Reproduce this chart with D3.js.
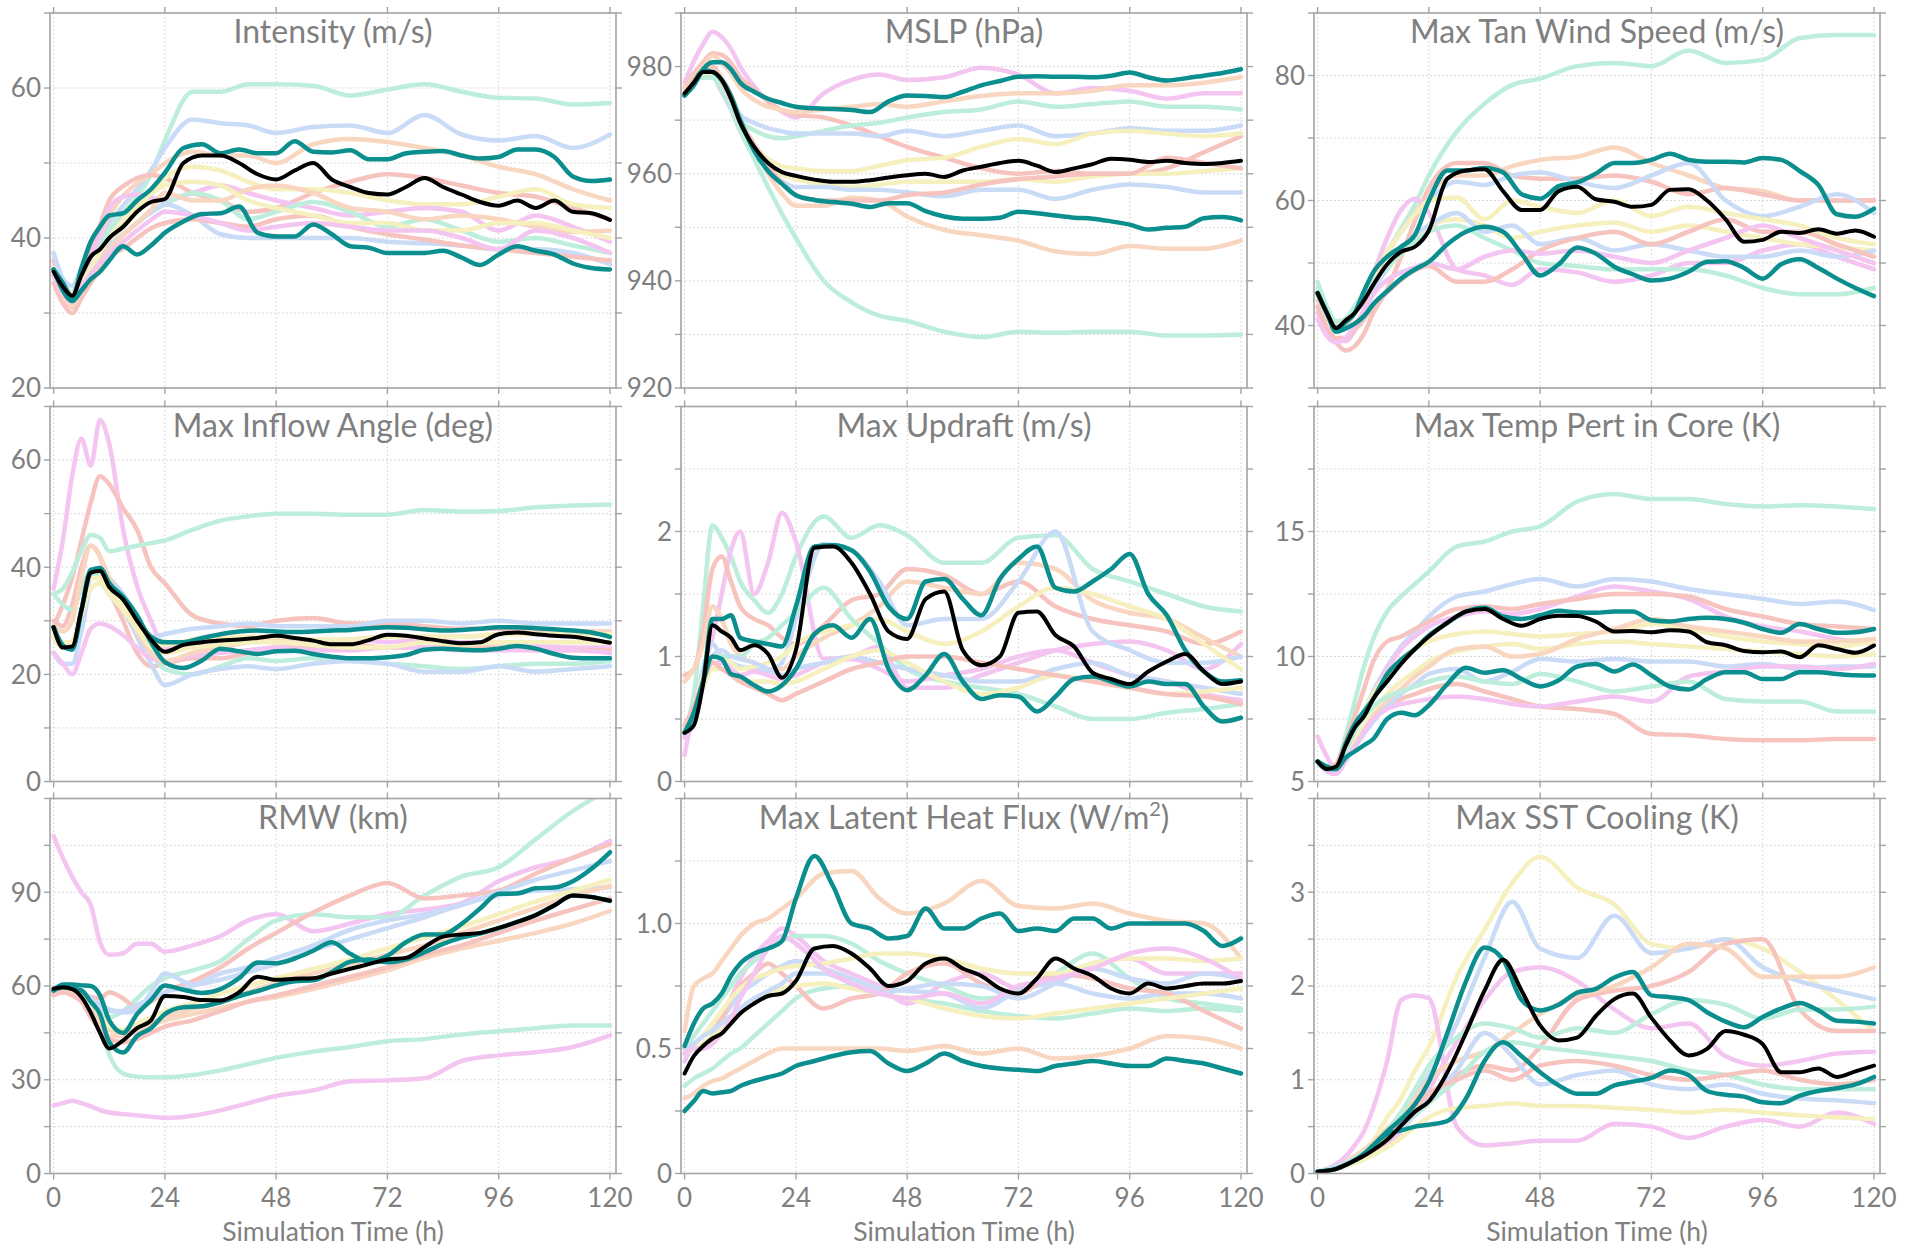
<!DOCTYPE html>
<html><head><meta charset="utf-8">
<script src="https://cdn.jsdelivr.net/npm/d3@7"></script>
<style>
html,body{margin:0;padding:0;background:#fff;}
svg{display:block;font-family:Lato,"Open Sans",sans-serif;}
</style></head><body>
<svg id="chart" width="1919" height="1246"></svg>
<script>
// ---- time axes ----
const hours = [0,2,4,6,8,10,12,15,18,21,24,28,32,36,40,44,48,52,56,60,64,68,72,76,80,84,88,92,96,100,104,108,112,116,120];
const memberHours = [0,2,4,6,8,10,12,15,18,21,24,30,36,42,48,56,64,72,80,88,96,104,112,120];
const xTicks = [0,24,48,72,96,120];
const xTickLabels = ["0","24","48","72","96","120"];
const xAxisTitle = "Simulation Time (h)";

// ---- panel definitions ----
const panelTitles = ["Intensity (m/s)","MSLP (hPa)","Max Tan Wind Speed (m/s)","Max Inflow Angle (deg)","Max Updraft (m/s)","Max Temp Pert in Core (K)","RMW (km)","Max Latent Heat Flux (W/m²)","Max SST Cooling (K)"];
const yDomains = [[20,70],[920,990],[30,90],[0,70],[0,3],[5,20],[0,120],[0,1.5],[0,4]];
const yGridSteps = [10,10,10,10,0.5,2.5,15,0.25,0.5];
const yTickLabels = [[20,40,60],[920,940,960,980],[40,60,80],[0,20,40,60],[0,1,2],[5,10,15],[0,30,60,90],[0,0.5,1.0],[0,1,2,3]];

const pastelColors = {mint:"#bdeedc",blue:"#c9dbf6",pink:"#f3c5f0",salmon:"#f6c3bf",peach:"#f9d6c0",yellow:"#f6f0bf"};
const tealColor = "#0b8e8e";
const meanColor = "#000000";

// ---- 1 Intensity ----
const intensityMean = [35.5,33.5,32.3,35,37.5,38.5,40,41.5,43.5,44.8,45.2,50,51,51,50,48.5,47.8,49,50,47.8,46.8,46,45.8,46.8,48,46.8,45.8,44.8,44.3,45,44,45,43.5,43.3,42.4];
const intensityTealA = [35.8,34,32,36,39.5,41.5,43,43.3,45,46.5,48.7,52,52.5,51.3,51.8,51.3,51.3,52.9,51.5,51.4,51.7,50.5,50.5,51.3,51.5,51.6,51,50.6,50.8,51.8,51.8,50.8,48.2,47.6,47.8];
const intensityTealB = [35.8,33,31.6,33,34.5,35.5,37,38.9,37.8,39,40.7,42.2,43.2,43.3,44.2,40.7,40.2,40.2,41.8,40.5,38.9,38.7,38,38,38,38.3,37.4,36.4,37.8,38.9,38.3,37.8,36.6,36,35.8];
const intensityMemberColors = ["mint","blue","peach","salmon","yellow","pink","mint","blue","salmon","peach","yellow","pink"];
const intensityMembers = [
 [36,33.5,32.7,35.5,37.5,39.3,41,43.3,45.5,48.5,53,59.5,59.5,60.5,60.5,60.3,59,59.8,60.5,59.5,58.7,58.6,57.8,58],
 [37,34.6,33.6,36,38,40,42,44.3,46.5,49,52,55.8,55.3,55,54,54.8,55,54,56.4,53.8,53,53.6,52,53.8],
 [35,32.6,31.8,35,37.7,40.3,43,45.6,47.3,48.5,50,51.5,51,51,50,52.5,53.2,52.8,52,51,49.5,48.5,46.5,45],
 [37,32.8,30.8,34,38,41.7,45,46.9,48,48.4,48,46,45,43.5,44,46,47.5,48.5,48,47,46,45.5,44,42.5],
 [36,33,31.7,34.5,36.2,37.8,39.5,41.4,43.5,45.8,48,49.5,49,47.5,46.5,46.5,46,45,44.5,44.5,45.5,46.5,44.5,44],
 [36,33,31.6,34,37.4,40.7,44,45.5,45.8,45.4,45,46,47,46,45,44,43,43.5,44,43.5,41,43,41.5,39.5],
 [35,32.6,31.6,34,35.7,37.2,38.5,40.4,42,43.4,44.5,46,45,42.5,43.5,44.8,43.5,41.5,42.5,41,39.5,40,39,38],
 [38,34.4,32.4,34,36,37.7,39,40.5,42,43.4,44.5,43,40.5,40,40,40,40,39.5,39.3,39,38.5,38.5,38,36.5],
 [34,31.3,30,32,34,35.8,37.5,38.6,40,41.3,42,42.5,42,41.5,42.5,43,41.5,40.5,39.8,39,38.5,38,37.5,37],
 [35,32.3,31,33,35,36.8,38.5,40.4,42,43.8,46,45,45,46.5,47,46,44,43.5,42.5,43,42.5,41.5,40.8,41],
 [36,33.6,32.4,34,36,38,40,42.3,44.3,45.9,47,47.5,47,45,44,43,42,42,41,41,42,42,41,40],
 [35,32.6,31.5,33.5,35.2,36.7,38,39.5,41,42.4,43.5,43,42,41,41.5,42,41.5,41,41,40,38.5,41,40,38]
];

// ---- 2 MSLP ----
const mslpMean = [975,977,979,979,977.5,974,969.5,965,962,960.3,959.6,958.9,958.5,958.5,958.8,959.3,959.7,960,959.4,960.6,961.3,962,962.4,961.5,960.3,961,961.8,962.8,962.6,962.2,962.4,962,961.8,962,962.4];
const mslpTealA = [974.6,976.5,979.5,980.8,980.8,979.5,977,975.3,974,973.2,972.5,972.2,972.1,971.9,971.5,973.5,974.6,974.5,974.3,975.3,976.5,977.3,978.1,978.2,978.1,978.1,978,978.3,978.9,978,977.4,977.8,978.3,978.8,979.5];
const mslpTealB = [974.6,977,979.3,979,977.5,974.5,970,964.3,960.5,958.1,956,955.1,954.7,954.4,953.8,954.5,954.5,953,952,951.6,951.6,951.8,952.9,952.6,952.2,951.8,951.6,951.1,950.5,949.6,949.9,950.1,951.7,951.9,951.3];
const mslpMemberColors = ["pink","salmon","peach","peach","mint","blue","yellow","yellow","blue","mint","salmon"];
const mslpMembers = [
 [977,981,984.2,986.5,985.5,983.3,980,976.3,973.5,971.6,970.5,975,977.5,978.5,977.5,978,979.8,978.5,975,976,975.5,974,975,975],
 [976,978.7,980.8,982.5,982.2,980.7,978,975.8,973.5,971.8,971,970.5,969,967,965,963,961,960,960.5,960,960,961,964,967],
 [975,977.7,979.3,980,978,974.7,970,964.8,960,956.3,954,954,955.5,955,952,949.5,948.5,947.5,945.5,945,946.5,946,946,947.5],
 [976,978,980,982,980.7,978.7,976,973.8,972.5,971.9,971.5,972,972.5,973,972.5,973.5,974.5,975,975,975.5,976.5,976.5,977,978],
 [975,977,978.2,978.5,976.2,973.3,970,968.1,967,966.6,967,968,969,969.5,970.5,971.5,972,973.5,972.5,973,973.5,972.5,972.5,972],
 [975,977,978,978,976,973.7,971,969.5,968.5,967.9,967.5,967.5,967.5,967,968,967,968,969,967,967.5,968.5,968,968,969],
 [975,977,978.3,979,976.3,973,969,965.3,962.8,961.4,961,960.5,960.5,961.5,962.5,963,965,966.5,965.5,967.5,968,967.5,967,967.5],
 [975,977,978,978,975.3,972,968,964.3,961.5,959.8,959,958,957.5,958,958.5,958.5,958.5,959,958.5,959.5,960,960,960.5,961],
 [975,977,978,978,975.3,972,968,963.9,960.8,958.6,957.5,957.5,957,957,956.5,955.8,957,957,955.3,957,958,957.5,956.5,956.5],
 [975,977,978,978,976,972.7,968,962.8,957.5,952.5,948,940,936,933.5,932.5,930.5,929.5,930.5,930.3,930.5,930.5,929.8,929.8,930],
 [975,977.7,979.3,980,977.3,974,970,965.5,961.5,958.3,956,955,955,955,956,956.5,958,959,959.5,960,960,963,962,961]
];

// ---- 3 Max Tan Wind ----
const tanWindMean = [45.2,42,39.6,40.8,42,44,46.5,49.8,51.8,52.6,55.2,63.5,64.8,65,61.5,58.5,58.5,61.5,62.2,60.2,59.8,59,59.3,61.7,61.8,60,57,53.4,53.7,55,54.8,55.4,54.7,55.2,54.2];
const tanWindTealA = [45.2,42,39.3,40.5,42,45.5,48.5,51,52.6,54.5,60,64.8,64.8,65.2,64.5,61,60.3,62.3,62.9,64.3,66,66,66.5,67.5,66.5,66.2,66.2,66.1,66.8,66.5,64.7,62.5,57.8,57.4,58.7];
const tanWindTealB = [45.2,42,39,39.5,40.3,41.5,43.4,45.5,47.5,49,50.2,53,55,55.8,55,51.5,48,49.8,52.5,51.5,49.4,48.2,47.2,47.5,48.6,50.2,50.3,49.2,47.5,49.8,50.6,49.2,47.5,46,44.7];
const tanWindMemberColors = ["mint","peach","salmon","blue","pink","yellow","yellow","blue","mint","salmon","pink"];
const tanWindMembers = [
 [47,43,40.7,41,43,45.3,48,51.8,55.5,59.3,64,71,75.5,78.5,79.5,81.5,82,81.5,84,82,82.5,86,86.5,86.5],
 [44,41.3,40,40,42,44.3,47,51.5,55,58,61,64,64,65.5,66.5,67,68.5,66,64,62,61.5,60,60,60],
 [43,39.7,37.3,36,36.7,38.7,42,45.8,51,56.8,62,66,66,64,63.5,63.5,64,63,61,62,61,60,60,60],
 [45,41.7,40.3,41,43,45.3,48,51.8,55,57.8,60,63,62.5,64,64.5,63,62,64,66,60,57.5,59,61,58],
 [42,39.3,37.8,37.5,39.2,42.7,48,54,58.5,60.3,58,49,48,46.5,49,48.5,47,48,50,50,52,53,51,49],
 [45,41.7,40.3,41,43,45.3,48,51.8,55,57.8,60,60.5,57,60,59,58,60,57.5,59,58,57,56,54,53],
 [45,41.7,40.3,41,42.3,44,46,49,51.5,53.8,56,57,56,54,55,56,56.5,55,56,55,54,53,52.5,52],
 [45,41.7,40.2,40.5,42.2,44,46,49,52,54.5,56,58,55,56,53,54,52,53,52,51,51,52,51,52],
 [46,42,40.3,41,43,45,47,49.3,51.5,53.5,55,56,54,52,50,49.5,49,49,49,48,46,45,45,46],
 [43,39.7,38,38,39.3,41,43,45.3,47.3,48.8,49.5,47,47,49,52,54,55,53,55,57,55,55,53,51],
 [41,38.3,37.3,38,40,42.3,45,47.3,48.5,49.3,50,49,51,52,51.5,52,51,50,52,54,56,54,52,50]
];

// ---- 4 Max Inflow Angle ----
const inflowMean = [28.8,25,25.2,32,39,39.3,36.3,34,30,26.5,24.2,25.5,26,26.3,26.5,26.8,27.2,26.8,26.3,25.6,25.6,26.4,27.4,27.2,26.7,26.2,25.8,26,27.5,27.8,27.5,27.2,27,26.5,25.9];
const inflowTealA = [28.8,25.4,24.6,32,39.5,39.8,37,34,30.5,27,26,26,26.8,27.5,28,28.2,28,27.9,28,28.2,28.3,28.6,28.8,28.7,28.4,28.2,28.3,28.5,28.8,28.8,28.6,28.4,28.2,27.8,27];
const inflowTealB = [28.8,25.2,24.8,32,39,39.8,37,34.5,31,26,22.3,21.2,22.6,24.8,24.3,23.8,24.3,24.4,23.8,23.3,23,23,23.2,23.6,24.6,24.8,24.6,24.5,24.8,25.3,24.8,23.8,23.1,23,23];
const inflowMemberColors = ["pink","salmon","salmon","mint","mint","blue","blue","pink","peach","yellow","yellow"];
const inflowMembers = [
 [36,45,57,64,59,67.5,63,47,36.5,30,25,25,26,26.5,26,26,26.5,26,26.5,26,26,25.5,25,25],
 [29,33,38,45,52,57,55.5,51,47,40,37,31,29.5,29,30,30.5,29.5,29.5,29,28.5,28.5,28,28,28],
 [30,29,33,40,44,42,36,30,24,21.5,22,23,23,24,25,25,25.5,25,25,25,25,24.5,24.5,24.5],
 [35,36,39,43,46,45.5,43,43.5,44,44.5,45,47,48.7,49.5,50,50,49.8,49.8,50.7,50.4,50.5,51.2,51.5,51.7],
 [35,33,32,36,39,38,35,32,28,24,21,20,21.5,23,22.5,23,22.5,22,21.5,21,21.5,22,22,22.5],
 [24,22,22,28,36,37,35,32,27,22,18,20,21,21.5,21,22,22.5,22,20.5,20.5,21.5,20.5,21,21.5],
 [27,25,26,32,38,40,38,35,31,27,27.5,28.5,29,29.5,29,29,29,30,30,29.5,30,29.5,29.5,29.5],
 [24,22,20,24,28.5,29.5,29,27.3,25,23,22.5,23.5,24,24.5,25,24.5,24.5,25,25,24.5,24.5,24.5,24.5,24],
 [29,28,30,38,44,42,38,33,28,24,22.5,24,25,26,26.5,26,26.5,27,27,27,27.5,28,28,28],
 [27,25,26,32,38,38,36,33,29,26,25.5,26.5,27,27,27,26.5,26.5,27,27,27,27.5,27.5,27.5,27.5],
 [28,26,26,31,36,37,35,32,28.5,25,24,25,25.5,26,26,25.5,25,25,26,25.5,26,26,26,26]
];

// ---- 5 Max Updraft ----
const updraftMean = [0.39,0.45,0.78,1.25,1.2,1.15,1.05,1.09,1.02,0.83,1.05,1.87,1.88,1.75,1.5,1.2,1.14,1.46,1.52,1.05,0.93,1.0,1.35,1.36,1.17,1.08,0.87,0.82,0.78,0.88,0.96,1.02,0.88,0.78,0.8];
const updraftTealA = [0.39,0.55,0.8,1.3,1.3,1.33,1.15,1.12,1.1,1.08,1.4,1.88,1.89,1.85,1.68,1.4,1.3,1.6,1.62,1.46,1.33,1.62,1.78,1.88,1.55,1.52,1.6,1.7,1.82,1.5,1.33,1.05,0.88,0.8,0.81];
const updraftTealB = [0.39,0.55,0.8,1.0,0.98,0.86,0.84,0.77,0.72,0.77,0.9,1.18,1.25,1.15,1.3,0.9,0.73,0.85,1.02,0.8,0.66,0.69,0.68,0.56,0.68,0.82,0.84,0.8,0.76,0.8,0.78,0.78,0.6,0.48,0.51];
const updraftMemberColors = ["mint","pink","salmon","peach","blue","yellow","mint","pink","blue","yellow","salmon"];
const updraftMembers = [
 [0.4,0.7,1.4,2.05,1.95,1.8,1.6,1.45,1.35,1.5,1.8,2.12,1.95,2.05,1.97,1.75,1.75,1.95,1.97,1.7,1.6,1.5,1.4,1.36],
 [0.21,0.6,0.9,1.15,1.5,1.85,2.0,1.5,1.75,2.15,1.92,0.98,1.0,1.08,0.75,0.75,0.85,0.95,1.05,1.1,1.12,1.05,0.9,1.1],
 [0.85,0.9,1.2,1.7,1.8,1.6,1.4,1.3,1.25,1.15,1.1,1.25,1.45,1.5,1.7,1.65,1.5,1.6,1.4,1.3,1.25,1.2,1.1,1.2],
 [0.8,0.9,1.1,1.4,1.3,1.1,1.0,0.95,0.9,0.9,1.0,1.15,1.25,1.4,1.6,1.55,1.5,1.75,1.7,1.45,1.35,1.3,1.15,1.0],
 [0.4,0.6,0.9,1.1,1.0,0.95,0.92,0.9,0.88,0.95,1.3,1.9,1.85,1.6,1.25,1.3,1.3,1.6,2.0,1.2,1.05,0.95,0.95,1.0],
 [0.4,0.6,0.85,1.0,1.0,0.95,0.9,0.92,0.95,1.0,1.1,1.2,1.25,1.3,1.2,1.1,1.2,1.4,1.55,1.5,1.4,1.3,1.1,0.9],
 [0.4,0.6,0.8,1.0,1.0,1.0,1.0,1.1,1.15,1.25,1.35,1.55,1.3,1.1,0.9,0.8,0.75,0.7,0.6,0.5,0.5,0.55,0.58,0.62],
 [0.35,0.55,0.8,0.95,0.95,0.9,0.85,0.88,0.85,0.82,0.85,0.95,0.98,0.9,0.8,0.85,0.9,1.0,1.05,0.95,0.85,0.8,0.7,0.65],
 [0.4,0.55,0.8,1.0,1.05,1.0,0.98,0.95,0.9,0.85,0.9,0.95,1.0,0.95,0.9,0.85,0.8,0.8,0.9,0.95,0.85,0.8,0.75,0.7],
 [0.4,0.55,0.75,0.9,0.9,0.85,0.8,0.8,0.8,0.78,0.8,0.9,1.0,1.05,0.95,0.8,0.7,0.75,0.85,0.8,0.75,0.7,0.72,0.75],
 [0.45,0.6,0.8,0.95,0.9,0.85,0.8,0.75,0.7,0.65,0.7,0.8,0.9,0.95,1.0,1.0,0.95,0.9,0.85,0.8,0.75,0.7,0.68,0.62]
];

// ---- 6 Max Temp Pert in Core ----
const tempMean = [5.8,5.5,5.6,6.4,7.15,7.6,8.3,9.0,9.7,10.3,10.8,11.35,11.8,11.9,11.5,11.23,11.5,11.63,11.62,11.4,11.0,11.02,10.97,11.05,11.0,10.57,10.45,10.22,10.17,10.2,9.97,10.45,10.3,10.15,10.44];
const tempTealA = [5.8,5.6,5.5,6.5,7.3,7.8,8.3,9.3,9.87,10.3,10.84,11.35,11.8,11.95,11.6,11.5,11.65,11.83,11.76,11.75,11.8,11.8,11.45,11.4,11.5,11.55,11.5,11.35,11.1,10.95,11.3,11.1,10.95,10.97,11.1];
const tempTealB = [5.8,5.5,5.5,5.95,6.2,6.45,6.7,7.5,7.75,7.65,8.05,8.9,9.55,9.35,9.45,9.1,8.8,9.05,9.6,9.7,9.4,9.68,9.25,8.8,8.68,9.1,9.37,9.37,9.1,9.1,9.37,9.37,9.3,9.25,9.24];
const tempMemberColors = ["mint","blue","pink","salmon","salmon","yellow","yellow","peach","blue","pink","mint"];
const tempMembers = [
 [5.8,5.6,5.7,6.8,8.2,9.6,10.7,11.8,12.4,12.9,13.4,14.4,14.6,15.0,15.2,16.2,16.5,16.3,16.3,16.1,16.0,16.05,16.0,15.9],
 [5.8,5.5,5.6,6.3,7.0,7.8,8.6,9.6,10.4,11.0,11.6,12.4,12.6,12.9,13.1,12.8,13.1,13.0,12.7,12.5,12.3,12.1,12.2,11.85],
 [6.8,6.0,5.5,6.2,7.0,7.8,8.5,9.5,10.3,10.8,11.2,11.6,11.8,11.7,11.9,12.4,12.8,12.6,12.3,11.6,11.2,11.0,10.7,10.5],
 [5.8,5.5,5.7,6.6,7.6,8.7,9.8,10.6,10.8,11.1,11.4,11.9,12.0,11.9,12.1,12.3,12.5,12.5,12.4,11.9,11.6,11.3,11.2,11.1],
 [5.8,5.5,5.5,6.0,6.6,7.1,7.6,8.0,8.3,8.5,8.7,8.9,8.6,8.3,8.0,7.9,7.7,6.9,6.85,6.7,6.65,6.65,6.7,6.7],
 [5.8,5.5,5.6,6.2,7.0,7.8,8.5,9.3,9.9,10.3,10.6,10.9,11.0,10.9,10.8,10.9,11.0,11.3,11.1,10.8,10.6,10.5,10.4,10.6],
 [5.8,5.5,5.5,6.0,6.6,7.2,7.8,8.5,9.0,9.4,9.8,10.2,10.4,10.5,10.3,10.5,10.6,10.5,10.4,10.3,10.2,10.1,10.0,10.1],
 [5.8,5.5,5.5,5.9,6.4,7.0,7.6,8.2,8.7,9.2,9.6,10.3,10.4,10.0,10.1,10.7,11.1,11.5,11.2,11.0,10.8,10.6,10.6,10.7],
 [5.8,5.5,5.5,5.9,6.4,6.9,7.4,8.0,8.5,8.9,9.3,9.5,9.0,9.4,9.9,9.8,9.9,9.8,9.8,9.6,9.7,9.5,9.6,9.6],
 [5.8,5.4,5.3,5.8,6.4,7.0,7.5,7.9,8.1,8.2,8.3,8.4,8.3,8.1,8.0,8.2,8.4,8.2,9.2,9.4,9.6,9.6,9.5,9.7],
 [5.8,5.5,5.6,6.2,7.0,7.6,8.0,8.4,8.6,8.8,9.0,9.2,9.0,8.9,9.3,9.0,8.6,8.8,9.0,8.3,8.2,8.2,7.8,7.8]
];

// ---- 7 RMW ----
const rmwMean = [59.1,59.6,59,56.5,51.5,45,40,42.6,46.5,49,56.8,56.5,55.5,55.4,58,63,62,62.3,62.5,64,65.5,67,68.5,69,72.5,75.8,76.5,77,78.6,80.5,82.7,85.8,89,88.5,87.3];
const rmwTealA = [58.6,60.5,60.5,60.2,60,57,49,45,51,55.5,60.2,58.8,57.8,59,62.5,67.5,67.3,68.8,71.3,74,70.3,67.8,69.7,74,76.5,76.5,79.9,84.8,89.5,89.6,91.3,91.5,93.5,97.5,102.8];
const rmwTealB = [58.6,59.6,59.2,58.6,55,51,42,38.7,44,46.5,51,53.2,53.5,54.8,56.8,58.4,60.2,61.5,61.8,64.5,67.8,68.5,67.6,68.5,70.8,73.5,75.5,76.8,78.5,80.5,82.7,85.8,89,88.5,87.3];
const rmwMemberColors = ["pink","pink","mint","mint","salmon","blue","blue","peach","peach","yellow","salmon"];
const rmwMembers = [
 [108,101,95,90,86,74,70,70.5,73.5,73.5,71,73,76,81,83,77.5,80,83,84.5,86.5,93.5,98,101,106.5],
 [21.8,22.5,23.3,22.5,21.5,20.3,19.5,19,18.6,18.2,17.8,18.5,20.2,22.5,24.8,26.6,29.5,29.8,30.5,36,37.8,38.8,40.5,44.2],
 [57,58,58,57.5,55,48,38,32,31,30.8,30.8,31.5,33,35,37,39,40.5,42.3,43,44.5,45.5,46.5,47.4,47.4],
 [57.5,59,59,58,55,52,50,52,56,60,62.5,65,68,75,81,83,82,82,89,95,98,107,116,123],
 [57,58,58,57.5,56.5,56,58,56,53,55,58,61.5,66,72,77,83.5,89,93,88,89,90.5,96,101,105.4],
 [59.6,60,59.5,58,56,54,52.5,51.5,52,58,64,60.5,62,64.5,67,71.5,75,78.5,82,86,89,90.5,91,91.6],
 [59,59.5,59,58,56,53,52,52,54,56,58,60,64,66,69,73,78,81,83,86,90,94,97,100],
 [58.5,59,58,56,52,48,44,44,45.5,47.5,49,51,53,55,56.5,59,62,65,69,72,74.5,77,80,84],
 [59,59.5,59,58,55,50,46,45,46.5,48,50,52.5,55,58,61,64,67,70,73,77,81,85,89,92],
 [59,59.5,59,58,55,51,47,46,48,50,52,54.5,57.5,60,62.5,65.5,68.5,72,75.5,79,83,87,90.5,94],
 [58,58,57,55,50,46,43,42,43,45,47,49,52,55,57,60,63,66,70,73,77,81,84.5,88]
];

// ---- 8 Max Latent Heat Flux ----
const lhfMean = [0.4,0.47,0.51,0.54,0.56,0.6,0.64,0.68,0.71,0.72,0.77,0.9,0.91,0.88,0.82,0.75,0.77,0.84,0.86,0.82,0.79,0.74,0.72,0.78,0.86,0.82,0.79,0.74,0.72,0.76,0.74,0.75,0.76,0.76,0.77];
const lhfTealA = [0.51,0.6,0.66,0.68,0.72,0.79,0.84,0.88,0.9,0.93,1.1,1.27,1.15,1.0,0.98,0.94,0.95,1.06,0.98,0.98,1.02,1.04,0.97,0.98,0.97,1.02,1.02,0.98,1.0,1.0,1.0,1.0,0.97,0.91,0.94];
const lhfTealB = [0.25,0.29,0.33,0.32,0.325,0.33,0.35,0.37,0.385,0.4,0.43,0.45,0.47,0.485,0.49,0.44,0.41,0.44,0.48,0.45,0.43,0.42,0.415,0.41,0.43,0.44,0.45,0.44,0.43,0.43,0.46,0.45,0.44,0.42,0.4];
const lhfMemberColors = ["peach","peach","pink","mint","mint","blue","salmon","yellow","yellow","blue","pink"];
const lhfMembers = [
 [0.57,0.75,0.78,0.8,0.85,0.9,0.95,1.0,1.02,1.06,1.1,1.2,1.21,1.1,1.04,1.08,1.17,1.07,1.06,1.08,1.04,1.01,1.0,0.86],
 [0.3,0.32,0.35,0.37,0.38,0.4,0.42,0.45,0.48,0.5,0.5,0.5,0.5,0.5,0.49,0.51,0.48,0.5,0.46,0.47,0.5,0.55,0.54,0.5],
 [0.45,0.5,0.5,0.52,0.6,0.7,0.78,0.87,0.93,0.98,0.95,0.85,0.8,0.75,0.68,0.76,0.8,0.74,0.78,0.84,0.86,0.8,0.8,0.8],
 [0.5,0.55,0.6,0.65,0.7,0.75,0.8,0.85,0.9,0.93,0.95,0.95,0.92,0.85,0.8,0.75,0.7,0.72,0.8,0.88,0.78,0.7,0.68,0.66],
 [0.35,0.38,0.4,0.42,0.45,0.48,0.5,0.55,0.6,0.65,0.7,0.74,0.75,0.72,0.7,0.68,0.65,0.63,0.62,0.64,0.66,0.65,0.66,0.65],
 [0.5,0.52,0.55,0.58,0.62,0.67,0.72,0.76,0.8,0.83,0.85,0.82,0.78,0.74,0.73,0.72,0.66,0.73,0.76,0.72,0.7,0.72,0.72,0.7],
 [0.48,0.5,0.52,0.55,0.62,0.7,0.75,0.8,0.84,0.8,0.75,0.66,0.7,0.72,0.8,0.84,0.76,0.72,0.8,0.78,0.74,0.72,0.65,0.58],
 [0.5,0.52,0.55,0.6,0.65,0.7,0.74,0.78,0.8,0.82,0.83,0.84,0.86,0.88,0.88,0.86,0.82,0.8,0.8,0.84,0.86,0.86,0.85,0.86],
 [0.48,0.5,0.52,0.55,0.58,0.62,0.66,0.7,0.72,0.74,0.75,0.76,0.74,0.72,0.7,0.66,0.63,0.62,0.64,0.66,0.68,0.7,0.72,0.74],
 [0.5,0.52,0.55,0.57,0.6,0.63,0.66,0.7,0.73,0.76,0.8,0.8,0.76,0.72,0.74,0.76,0.75,0.7,0.76,0.82,0.78,0.76,0.8,0.78],
 [0.48,0.5,0.5,0.52,0.56,0.62,0.7,0.8,0.9,0.95,0.92,0.82,0.76,0.72,0.7,0.72,0.68,0.75,0.78,0.82,0.88,0.9,0.86,0.78]
];

// ---- 9 Max SST Cooling ----
const sstMean = [0.02,0.03,0.05,0.09,0.14,0.19,0.25,0.36,0.51,0.66,0.77,1.08,1.5,1.95,2.28,1.95,1.58,1.42,1.45,1.68,1.86,1.92,1.66,1.42,1.26,1.33,1.52,1.48,1.38,1.08,1.08,1.12,1.03,1.09,1.15];
const sstTealA = [0.02,0.03,0.05,0.09,0.14,0.2,0.3,0.45,0.58,0.74,0.98,1.5,2.05,2.41,2.28,1.85,1.74,1.8,1.93,1.97,2.09,2.15,1.9,1.88,1.85,1.72,1.62,1.56,1.67,1.76,1.82,1.74,1.63,1.62,1.6];
const sstTealB = [0.02,0.03,0.05,0.09,0.14,0.21,0.3,0.42,0.46,0.5,0.52,0.56,0.8,1.2,1.4,1.25,1.08,0.94,0.85,0.85,0.94,0.98,1.02,1.1,1.05,0.88,0.84,0.82,0.76,0.75,0.83,0.88,0.91,0.95,1.03];
const sstMemberColors = ["yellow","blue","pink","pink","salmon","peach","mint","mint","blue","yellow","salmon"];
const sstMembers = [
 [0.02,0.04,0.08,0.13,0.19,0.25,0.35,0.6,0.8,1.1,1.35,2.1,2.6,3.1,3.38,3.05,2.87,2.45,2.4,2.5,2.4,2.15,1.85,1.52],
 [0.02,0.04,0.07,0.11,0.16,0.22,0.3,0.45,0.65,0.85,1.05,1.6,2.3,2.9,2.4,2.3,2.75,2.35,2.4,2.5,2.2,2.05,1.95,1.86],
 [0.02,0.05,0.1,0.18,0.3,0.45,0.7,1.2,1.85,1.9,1.87,0.5,0.3,0.32,0.35,0.35,0.53,0.5,0.38,0.5,0.57,0.5,0.65,0.53],
 [0.02,0.03,0.05,0.08,0.12,0.16,0.22,0.32,0.45,0.65,0.9,1.4,1.85,2.15,2.2,2.05,1.75,1.55,1.6,1.25,1.15,1.2,1.28,1.3],
 [0.02,0.03,0.05,0.08,0.12,0.17,0.24,0.35,0.5,0.65,0.8,1.05,1.15,1.1,1.35,1.85,1.95,2.0,2.15,2.45,2.5,1.75,1.52,1.52],
 [0.02,0.04,0.07,0.12,0.18,0.25,0.33,0.48,0.62,0.8,1.0,1.2,1.3,1.5,1.7,1.9,2.0,2.2,2.45,2.4,2.1,2.1,2.1,2.2],
 [0.02,0.04,0.07,0.11,0.16,0.22,0.3,0.45,0.65,0.9,1.15,1.45,1.6,1.55,1.45,1.55,1.5,1.7,1.85,1.8,1.65,1.75,1.75,1.78],
 [0.02,0.04,0.07,0.11,0.15,0.2,0.27,0.38,0.5,0.62,0.75,1.0,1.3,1.4,1.35,1.3,1.25,1.2,1.1,1.05,0.95,0.9,0.9,0.9],
 [0.02,0.04,0.07,0.11,0.15,0.2,0.27,0.38,0.5,0.65,0.8,1.1,1.5,1.25,0.95,1.05,1.1,0.95,0.9,0.95,0.85,0.8,0.78,0.75],
 [0.02,0.03,0.05,0.08,0.11,0.15,0.2,0.28,0.38,0.5,0.6,0.7,0.72,0.75,0.72,0.72,0.7,0.68,0.65,0.68,0.65,0.62,0.6,0.58],
 [0.02,0.03,0.05,0.09,0.14,0.2,0.28,0.4,0.55,0.7,0.85,1.0,1.1,1.0,1.15,1.2,1.15,1.05,1.0,1.05,1.1,1.0,0.95,1.0]
];

// ---- assemble ----
const panelMeans = [intensityMean,mslpMean,tanWindMean,inflowMean,updraftMean,tempMean,rmwMean,lhfMean,sstMean];
const panelTealA = [intensityTealA,mslpTealA,tanWindTealA,inflowTealA,updraftTealA,tempTealA,rmwTealA,lhfTealA,sstTealA];
const panelTealB = [intensityTealB,mslpTealB,tanWindTealB,inflowTealB,updraftTealB,tempTealB,rmwTealB,lhfTealB,sstTealB];
const panelMembers = [intensityMembers,mslpMembers,tanWindMembers,inflowMembers,updraftMembers,tempMembers,rmwMembers,lhfMembers,sstMembers];
const panelMemberColors = [intensityMemberColors,mslpMemberColors,tanWindMemberColors,inflowMemberColors,updraftMemberColors,tempMemberColors,rmwMemberColors,lhfMemberColors,sstMemberColors];

// ---- layout ----
const colX = [50,681,1314];
const rowY = [13,406.5,798.5];
const PW = 566, PH = 375;
const textColor = "#7f7f7f", axisColor = "#a3a3a3", gridColor = "#cfcfcf";

const svg = d3.select("#chart");
const x = d3.scaleLinear().domain([-0.78,121.3]).range([0,PW]);

panelTitles.forEach((title,i)=>{
  const col=i%3,row=Math.floor(i/3);
  const g=svg.append("g").attr("transform",`translate(${colX[col]},${rowY[row]})`);
  const [y0,y1]=yDomains[i];
  const y=d3.scaleLinear().domain([y0,y1]).range([PH,0]);
  const step=yGridSteps[i];
  const gridVals=d3.range(0,Math.round((y1-y0)/step)+1).map(k=>+(y0+k*step).toFixed(4));

  // grid
  g.append("g").selectAll("line").data(gridVals.slice(1,-1)).join("line")
    .attr("x1",0).attr("x2",PW).attr("y1",d=>y(d)).attr("y2",d=>y(d))
    .attr("stroke",gridColor).attr("stroke-width",1).attr("stroke-dasharray","1.5,2.5");
  g.append("g").selectAll("line").data(xTicks).join("line")
    .attr("x1",d=>x(d)).attr("x2",d=>x(d)).attr("y1",0).attr("y2",PH)
    .attr("stroke",gridColor).attr("stroke-width",1).attr("stroke-dasharray","1.5,2.5");

  // lines
  const clipId="clip"+i;
  g.append("clipPath").attr("id",clipId).append("rect").attr("x",0).attr("y",0).attr("width",PW).attr("height",PH);
  const lg=g.append("g").attr("clip-path",`url(#${clipId})`);
  const line=d3.line().x(d=>x(d[0])).y(d=>y(d[1])).curve(d3.curveMonotoneX);
  panelMembers[i].forEach((vals,k)=>{
    lg.append("path").attr("d",line(d3.zip(memberHours,vals)))
      .attr("fill","none").attr("stroke",pastelColors[panelMemberColors[i][k]])
      .attr("stroke-width",4.5).attr("stroke-linejoin","round").attr("stroke-linecap","round");
  });
  [panelTealB[i],panelTealA[i]].forEach(vals=>{
    lg.append("path").attr("d",line(d3.zip(hours,vals)))
      .attr("fill","none").attr("stroke",tealColor).attr("stroke-width",4.5)
      .attr("stroke-linejoin","round").attr("stroke-linecap","round");
  });
  lg.append("path").attr("d",line(d3.zip(hours,panelMeans[i])))
    .attr("fill","none").attr("stroke",meanColor).attr("stroke-width",4)
    .attr("stroke-linejoin","round").attr("stroke-linecap","round");

  // box
  g.append("rect").attr("x",0).attr("y",0).attr("width",PW).attr("height",PH)
    .attr("fill","none").attr("stroke",axisColor).attr("stroke-width",1.6);
  // ticks all four sides
  const tk=6;
  const tg=g.append("g").attr("stroke",axisColor).attr("stroke-width",1.4);
  gridVals.forEach(v=>{
    tg.append("line").attr("x1",-tk).attr("x2",0).attr("y1",y(v)).attr("y2",y(v));
    tg.append("line").attr("x1",PW).attr("x2",PW+tk).attr("y1",y(v)).attr("y2",y(v));
  });
  xTicks.forEach(v=>{
    tg.append("line").attr("x1",x(v)).attr("x2",x(v)).attr("y1",-tk).attr("y2",0);
    tg.append("line").attr("x1",x(v)).attr("x2",x(v)).attr("y1",PH).attr("y2",PH+tk);
  });
  // y labels
  const fmt = i===7 ? (d=>d===0?"0":d.toFixed(1)) : (d=>String(d));
  g.append("g").selectAll("text").data(yTickLabels[i]).join("text")
    .attr("x",-9).attr("y",d=>y(d)).attr("dy","0.36em").attr("text-anchor","end")
    .attr("font-size",26).attr("fill",textColor).text(fmt);
  // title
  const t=g.append("text").attr("x",PW/2).attr("y",30).attr("text-anchor","middle")
    .attr("font-size",32).attr("fill",textColor);
  if(title.includes("²")){
    t.append("tspan").text(title.replace("²)",""));
    t.append("tspan").attr("font-size",20).attr("dy",-13).text("2");
    t.append("tspan").attr("dy",13).text(")");
  } else t.text(title);
  // x labels on bottom row
  if(row===2){
    g.append("g").selectAll("text").data(xTicks).join("text")
      .attr("x",d=>x(d)).attr("y",PH+33).attr("text-anchor","middle")
      .attr("font-size",26).attr("fill",textColor).text((d,k)=>xTickLabels[k]);
    g.append("text").attr("x",PW/2).attr("y",PH+67).attr("text-anchor","middle")
      .attr("font-size",26.5).attr("fill",textColor).text(xAxisTitle);
  }
});
</script>
</body></html>
